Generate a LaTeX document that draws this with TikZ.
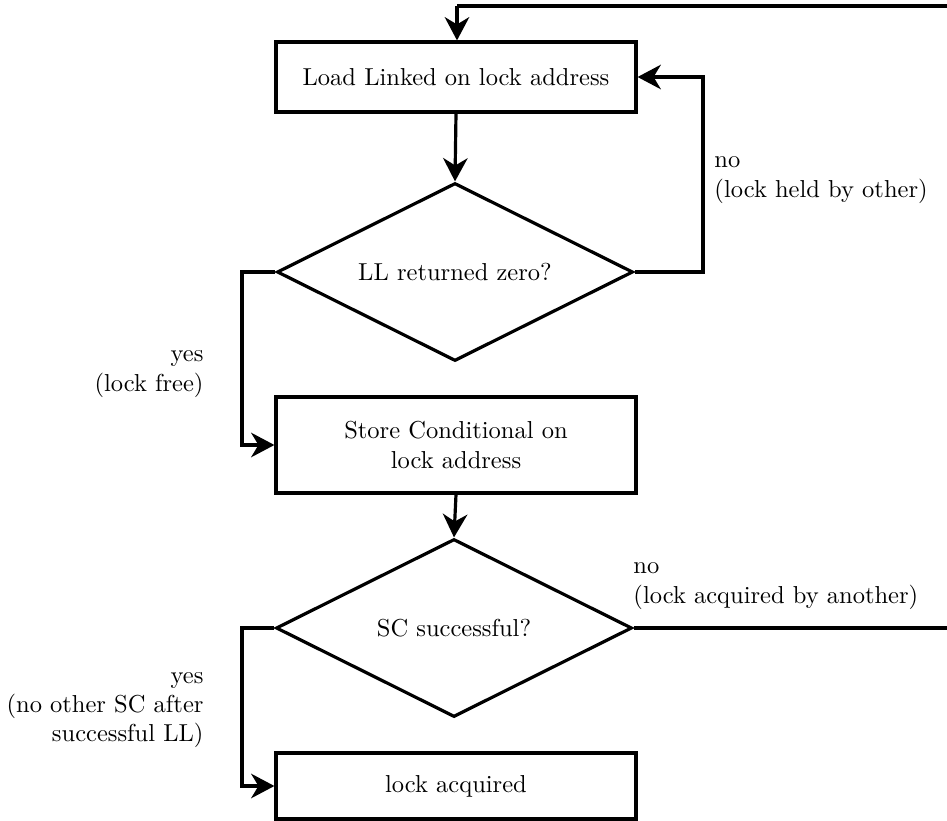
\documentclass[tikz,border=0pt]{standalone}
\usetikzlibrary{arrows.meta,shapes.geometric}
\begin{document}
\def\u{0.408pt}
\begin{tikzpicture}[x=\u, y=-\u,
  every node/.style={font=\normalsize},
  flow/.style={line width=1.3pt, -{Stealth[length=9.5pt,width=10pt,inset=3pt]}},
  plain/.style={line width=1.3pt},
  stepbox/.style={draw, line width=1.3pt, rectangle, minimum width=360*\u, align=center, inner sep=0pt},
  decision/.style={draw, line width=1.3pt, diamond, aspect=2, minimum width=356*\u, minimum height=178*\u, inner sep=0pt, align=center},
  note/.style={inner sep=0pt}]
\useasboundingbox (0,0) rectangle (947,821);
\clip (0,0) rectangle (947,821);

% process steps and decisions
\node[stepbox, minimum height=70*\u] (ll) at (456,77) {Load Linked on lock address};
\node[decision] (zero) at (455,272) {LL returned zero?};
\node[stepbox, minimum height=96*\u] (sc) at (456,445) {Store Conditional on\\lock address};
\node[decision] (ok) at (454,628) {SC successful?};
\node[stepbox, minimum height=66*\u] (done) at (456,786) {lock acquired};

% helper points for the retry loop, which leaves the drawing area on the right
\coordinate (loopbr) at (960,628);
\coordinate (looptr) at (960,6);
\coordinate (loopin) at (457,6);

% main flow
\draw[flow] (ll.south) -- (zero.north);
\draw[flow] (sc.south) -- (ok.north);

% LL result branches
\draw[flow] (zero.east) -- (703,272) |- (ll.east);
\draw[flow] (zero.west) -- (242,272) |- (sc.west);

% SC result branches
\draw[flow] (ok.west) -- (242,628) |- (done.west);
\draw[plain] (ok.east) -- (loopbr) -- (looptr) -- (loopin);
\draw[flow] (loopin) -- (ll.north -| loopin);

% branch labels
\node[note, anchor=west, align=left] (l1) at (714,180) {no\\(lock held by other)};
\node[note, anchor=east, align=right] (l2) at (204,374) {yes\\(lock free)};
\node[note, anchor=west, align=left] (l3) at (633,586) {no\\(lock acquired by another)};
\node[note, anchor=east, align=right] (l4) at (204,710) {yes\\(no other SC after\\successful LL)};
\end{tikzpicture}
\end{document}
